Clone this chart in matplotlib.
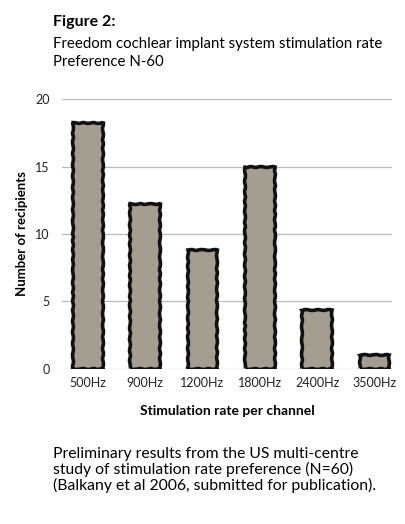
import matplotlib
matplotlib.use("Agg")
import matplotlib.pyplot as plt

rates = ["500Hz", "900Hz", "1200Hz", "1800Hz", "2400Hz", "3500Hz"]
recipients = [18.2, 12.2, 8.8, 15.0, 4.4, 1.0]
yticks = [0, 5, 10, 15, 20]

plt.rcParams["font.family"] = ["Lato", "DejaVu Sans"]
FILL = "#a69d91"

fig = plt.figure(figsize=(4.06, 5.24), dpi=100)
ax = fig.add_axes([0.153, 0.296, 0.813, 0.515])

xs = range(len(rates))
bars = ax.bar(xs, recipients, width=0.52, color=FILL, edgecolor="#111111",
              linewidth=2.6, zorder=3, joinstyle="miter")
for b in bars:
    # slight hand-drawn roughness on the outline
    b.set_sketch_params(0.45, 12, 2)

ax.set_xlim(-0.45, 5.31)
ax.set_ylim(0, 20)
ax.set_yticks(yticks)
ax.set_xticks(list(xs))
ax.set_xticklabels(rates, fontsize=9, color="#222")
ax.tick_params(axis="y", length=0, pad=9, labelsize=9, labelcolor="#222")
ax.tick_params(axis="x", length=0, pad=6)
ax.grid(axis="y", color="#bbbbbb", linewidth=0.9, zorder=0)
ax.set_axisbelow(True)
for s in ax.spines.values():
    s.set_visible(False)
ax.set_ylabel("Number of recipients", fontsize=9.5, fontweight="bold", labelpad=5)
ax.set_xlabel("Stimulation rate per channel", fontsize=10, fontweight="bold", labelpad=11)

fig.text(0.13, 0.958, "Figure 2:", fontsize=11.5, fontweight="bold", va="center")
fig.text(0.13, 0.916, "Freedom cochlear implant system stimulation rate", fontsize=10.8, va="center")
fig.text(0.13, 0.881, "Preference N-60", fontsize=10.8, va="center")

caption = ("Preliminary results from the US multi-centre\n"
           "study of stimulation rate preference (N=60)\n"
           "(Balkany et al 2006, submitted for publication).")
fig.text(0.13, 0.103, caption, fontsize=11.3, va="center", linespacing=1.1)

fig.savefig("out.png", dpi=100)
